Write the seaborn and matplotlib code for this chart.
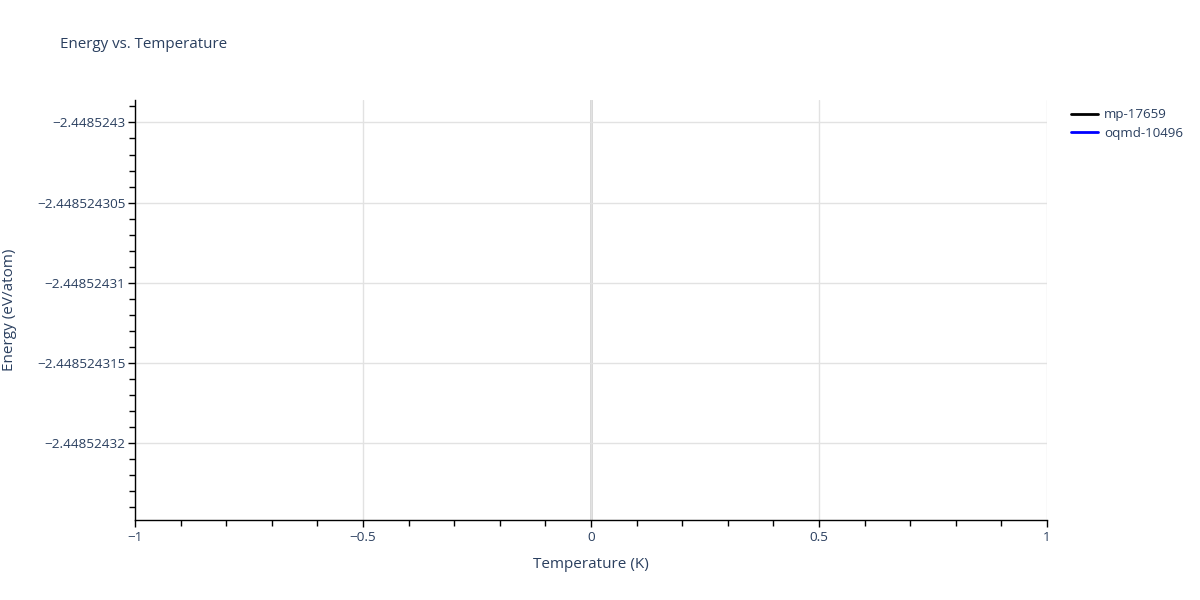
import numpy as np
import pandas as pd
import seaborn as sns
import matplotlib
matplotlib.use("Agg")
import matplotlib.pyplot as plt
from matplotlib.ticker import FixedLocator, FixedFormatter, MultipleLocator
from matplotlib.lines import Line2D

# data: each source has a single point at T = 0 K
sources = ["mp-17659", "oqmd-10496"]
temperature = [0, 0]
energy = [-2.4485243117, -2.4485243117]
colors = ["black", "blue"]

x_ticks = [-1, -0.5, 0, 0.5, 1]
x_labels = ["\u22121", "\u22120.5", "0", "0.5", "1"]
y_ticks = [-2.4485243, -2.448524305, -2.44852431, -2.448524315, -2.44852432]
y_labels = ["\u22122.4485243", "\u22122.448524305", "\u22122.44852431",
            "\u22122.448524315", "\u22122.44852432"]
y_range = (-2.4485243248, -2.4485242986)

text_color = "#2a3f5f"

sns.set_theme(style="white")
plt.rcParams["font.family"] = ["Open Sans", "DejaVu Sans"]

df = pd.DataFrame({"source": sources, "temperature": temperature, "energy": energy})

fig = plt.figure(figsize=(12, 6), dpi=100)
ax = fig.add_axes([135 / 1200, 80 / 600, 912 / 1200, 420 / 600])

sns.lineplot(data=df, x="temperature", y="energy", hue="source",
             palette=colors, ax=ax, legend=False, linewidth=2)

ax.set_xlim(-1, 1)
ax.set_ylim(*y_range)

ax.xaxis.set_major_locator(FixedLocator(x_ticks))
ax.xaxis.set_major_formatter(FixedFormatter(x_labels))
ax.xaxis.set_minor_locator(MultipleLocator(0.1))
ax.yaxis.set_major_locator(FixedLocator(y_ticks))
ax.yaxis.set_major_formatter(FixedFormatter(y_labels))
ax.yaxis.set_minor_locator(MultipleLocator(1e-9))

ax.grid(True, which="major", color="#e2e2e2", linewidth=1)
ax.axvline(0, color="#d4d4d4", linewidth=2, zorder=0.5)
ax.set_axisbelow(True)

for side in ["top", "right"]:
    ax.spines[side].set_visible(False)
for side in ["left", "bottom"]:
    ax.spines[side].set_color("black")
    ax.spines[side].set_linewidth(1)

ax.tick_params(axis="both", which="major", direction="out", length=5, width=1,
               color="black", labelcolor=text_color, labelsize=9.7, left=True, bottom=True)
ax.tick_params(axis="both", which="minor", direction="out", length=4, width=1,
               color="black", left=True, bottom=True)
ax.tick_params(axis="y", which="major", pad=2)
ax.tick_params(axis="x", which="major", pad=3)

ax.set_xlabel("Temperature (K)", color=text_color, fontsize=11, labelpad=9)
ax.set_ylabel("")
fig.text(10 / 1200, 1 - 310 / 600, "Energy (eV/atom)", color=text_color,
         fontsize=11, rotation=90, ha="center", va="center")

fig.text(60 / 1200, 1 - 45 / 600, "Energy vs. Temperature", color=text_color,
         fontsize=10.9, va="center", ha="left")

handles = [Line2D([0], [0], color=c, linewidth=2) for c in colors]
leg = fig.legend(handles, sources, loc="upper left", bbox_to_anchor=(1066 / 1200, 1 - 103 / 600),
                 frameon=False, fontsize=9.6, handlelength=2.0, handletextpad=0.45,
                 labelspacing=0.4, borderaxespad=0)
for t in leg.get_texts():
    t.set_color(text_color)

fig.savefig("out.png", dpi=100)
